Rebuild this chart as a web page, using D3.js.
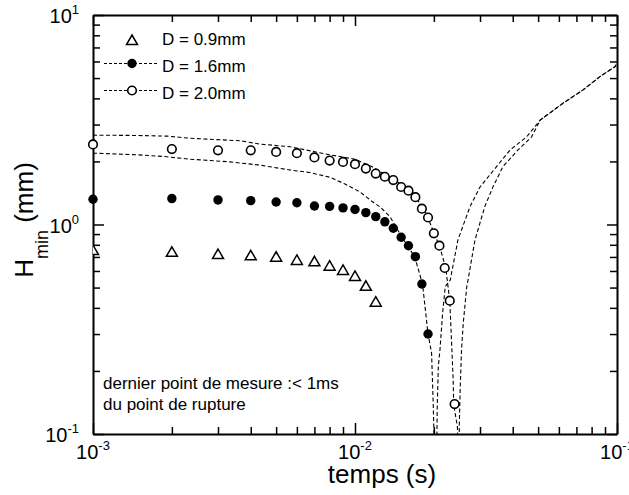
<!DOCTYPE html>
<html>
<head>
<meta charset="utf-8">
<script src="https://cdn.jsdelivr.net/npm/d3@7"></script>
<style>
  body { margin: 0; background: #fff; }
  svg { display: block; font-family: Arial, "Liberation Sans", sans-serif; }
</style>
</head>
<body>
<svg id="chart" width="629" height="495"></svg>
<script>
// Measured minimal thickness H_min (mm) versus time (s), three nozzle diameters
const tTri  = [0.001, 0.002, 0.003, 0.004, 0.005, 0.006, 0.007, 0.008, 0.009, 0.010, 0.011, 0.012];
const hTri  = [0.755, 0.741, 0.723, 0.713, 0.702, 0.677, 0.667, 0.636, 0.607, 0.568, 0.510, 0.428];

const tFill = [0.001, 0.002, 0.003, 0.004, 0.005, 0.006, 0.007, 0.008, 0.009, 0.010,
               0.011, 0.012, 0.013, 0.014, 0.015, 0.016, 0.017, 0.018, 0.019];
const hFill = [1.32, 1.33, 1.31, 1.30, 1.28, 1.27, 1.225, 1.22, 1.20, 1.18,
               1.14, 1.09, 1.03, 0.96, 0.869, 0.792, 0.702, 0.520, 0.300];

const tOpen = [0.001, 0.002, 0.003, 0.004, 0.005, 0.006, 0.007, 0.008, 0.009, 0.010,
               0.011, 0.012, 0.013, 0.014, 0.015, 0.016, 0.017, 0.018, 0.019, 0.020,
               0.021, 0.022, 0.023, 0.024];
const hOpen = [2.41, 2.29, 2.26, 2.26, 2.22, 2.19, 2.09, 2.02, 1.99, 1.94,
               1.85, 1.75, 1.69, 1.63, 1.51, 1.45, 1.35, 1.19, 1.08, 0.908,
               0.792, 0.620, 0.433, 0.139];

// Computed profiles (dashed curves)
const tSim16 = [1.0e-3, 1.49e-3, 1.88e-3, 2.35e-3, 3.33e-3, 4.34e-3, 5.65e-3, 6.73e-3, 8.03e-3, 9.16e-3,
                1.045e-2, 1.17e-2, 1.25e-2, 1.36e-2, 1.51e-2, 1.69e-2, 1.81e-2, 1.90e-2, 1.96e-2, 1.99e-2,
                2.01e-2, 2.05e-2, 2.06e-2, 2.08e-2, 2.11e-2, 2.16e-2, 2.21e-2, 2.31e-2, 2.47e-2, 2.75e-2,
                3.00e-2, 3.47e-2, 3.91e-2, 4.52e-2, 5.09e-2, 6.22e-2, 7.42e-2, 8.61e-2, 9.83e-2, 0.1];
const hSim16 = [2.19, 2.15, 2.11, 2.05, 1.99, 1.92, 1.82, 1.77, 1.68, 1.56,
                1.43, 1.28, 1.21, 1.09, 0.869, 0.702, 0.520, 0.300, 0.244, 0.135,
                0.08, 0.08, 0.135, 0.21, 0.252, 0.378, 0.505, 0.543, 0.843, 1.22,
                1.51, 1.89, 2.27, 2.62, 3.15, 3.79, 4.39, 5.08, 5.67, 5.90];

const tSim20 = [1.0e-3, 1.49e-3, 1.93e-3, 2.35e-3, 3.64e-3, 4.34e-3, 5.65e-3, 8.03e-3, 1.0e-2, 1.19e-2,
                1.29e-2, 1.40e-2, 1.51e-2, 1.61e-2, 1.69e-2, 1.81e-2, 1.90e-2, 2.0e-2, 2.10e-2, 2.22e-2,
                2.30e-2, 2.37e-2, 2.38e-2, 2.46e-2, 2.47e-2, 2.50e-2, 2.50e-2, 2.52e-2, 2.55e-2, 2.59e-2,
                2.67e-2, 2.70e-2, 2.87e-2, 3.13e-2, 3.36e-2, 3.67e-2, 4.19e-2, 4.72e-2, 5.09e-2, 6.22e-2,
                7.42e-2, 8.61e-2, 9.83e-2, 0.1];
const hSim20 = [2.67, 2.66, 2.64, 2.58, 2.51, 2.42, 2.35, 2.15, 2.05, 1.86,
                1.74, 1.65, 1.54, 1.46, 1.37, 1.21, 1.08, 0.908, 0.792, 0.62,
                0.433, 0.181, 0.139, 0.108, 0.08, 0.08, 0.108, 0.162, 0.252, 0.339,
                0.505, 0.543, 0.843, 1.22, 1.51, 1.89, 2.27, 2.62, 3.15, 3.79,
                4.39, 5.08, 5.67, 5.90];

const legendLabels = ["D = 0.9mm", "D = 1.6mm", "D = 2.0mm"];
const xMajor = [1e-3, 1e-2, 1e-1];
const xMajorExp = ["-3", "-2", "-1"];
const yMajor = [0.1, 1, 10];
const yMajorExp = ["-1", "0", "1"];

const svg = d3.select("#chart");
const x = d3.scaleLog().domain([1e-3, 1e-1]).range([93, 617]);
const y = d3.scaleLog().domain([0.1, 10]).range([434, 15]);

function decadeTicks(lo, hi) {
  const out = [];
  for (let e = lo; e < hi; e++) for (let k = 2; k < 10; k++) out.push(k * Math.pow(10, e));
  return out;
}
const xMinor = decadeTicks(-3, -1);
const yMinor = decadeTicks(-1, 1);

svg.append("defs").append("clipPath").attr("id", "plotArea")
  .append("rect").attr("x", 93).attr("y", 15).attr("width", 524).attr("height", 419);

// axes: inward ticks on all four sides
function drawAxis(axisFn, scale, transform, values, size, withDomain) {
  const g = svg.append("g").attr("transform", transform)
    .call(axisFn(scale).tickValues(values).tickSize(-size).tickSizeOuter(0).tickFormat(""));
  g.selectAll(".tick line").attr("stroke", "#000").attr("stroke-width", 1.5);
  if (withDomain) g.select(".domain").attr("stroke", "#000").attr("stroke-width", 2);
  else g.select(".domain").remove();
}
drawAxis(d3.axisBottom, x, "translate(0,434)", xMinor, 7, true);
drawAxis(d3.axisBottom, x, "translate(0,434)", xMajor, 11, false);
drawAxis(d3.axisTop, x, "translate(0,15)", xMinor, 7, true);
drawAxis(d3.axisTop, x, "translate(0,15)", xMajor, 11, false);
drawAxis(d3.axisLeft, y, "translate(93,0)", yMinor, 7, true);
drawAxis(d3.axisLeft, y, "translate(93,0)", yMajor, 11, false);
drawAxis(d3.axisRight, y, "translate(617,0)", yMinor, 7, true);
drawAxis(d3.axisRight, y, "translate(617,0)", yMajor, 10, false);

// tick labels with exponents
function powLabel(px, py, exp, anchor) {
  const t = svg.append("text").attr("x", px).attr("y", py)
    .attr("text-anchor", anchor).attr("font-size", 20).attr("fill", "#000");
  t.append("tspan").text("10");
  t.append("tspan").attr("font-size", 13).attr("dy", -9).text(exp);
}
xMajor.forEach((v, i) => powLabel(x(v), 459, xMajorExp[i], "middle"));
yMajor.forEach((v, i) => powLabel(79, y(v) + 8, yMajorExp[i], "end"));

// axis titles
svg.append("text").attr("x", 382).attr("y", 483).attr("text-anchor", "middle")
  .attr("font-size", 26).attr("fill", "#000").text("temps (s)");
const yt = svg.append("text").attr("transform", "translate(33,220) rotate(-90)")
  .attr("text-anchor", "middle").attr("font-size", 26).attr("fill", "#000");
yt.append("tspan").text("H");
yt.append("tspan").attr("font-size", 18).attr("dy", 15).text("min");
yt.append("tspan").attr("dy", -15).text(" (mm)");

// dashed computed curves
const line = d3.line().x(d => x(d[0])).y(d => y(d[1]));
const plot = svg.append("g").attr("clip-path", "url(#plotArea)");
[[tSim16, hSim16], [tSim20, hSim20]].forEach(([ts, hs]) => {
  plot.append("path").datum(ts.map((t, i) => [t, hs[i]]))
    .attr("d", line).attr("fill", "none").attr("stroke", "#000")
    .attr("stroke-width", 1.1).attr("stroke-dasharray", "4,2.5");
});

// markers
const triPath = "M0,-5L5.5,4.5L-5.5,4.5Z";
plot.selectAll(".tri").data(tTri.map((t, i) => [t, hTri[i]])).join("path")
  .attr("transform", d => `translate(${x(d[0])},${y(d[1])})`)
  .attr("d", triPath).attr("fill", "#fff").attr("stroke", "#000").attr("stroke-width", 1.5);
svg.selectAll(".fill").data(tFill.map((t, i) => [t, hFill[i]])).join("circle")
  .attr("cx", d => x(d[0])).attr("cy", d => y(d[1])).attr("r", 4.7).attr("fill", "#000");
svg.selectAll(".open").data(tOpen.map((t, i) => [t, hOpen[i]])).join("circle")
  .attr("cx", d => x(d[0])).attr("cy", d => y(d[1])).attr("r", 4.3)
  .attr("fill", "#fff").attr("stroke", "#000").attr("stroke-width", 1.6);

// legend
const legRows = [40, 63.5, 90.5];
const legText = [45, 72, 99];
[1, 2].forEach(i => {
  svg.append("line").attr("x1", 104).attr("x2", 159).attr("y1", legRows[i]).attr("y2", legRows[i])
    .attr("stroke", "#000").attr("stroke-width", 1.1).attr("stroke-dasharray", "3,2");
});
svg.append("path").attr("transform", `translate(132,${legRows[0]})`).attr("d", triPath)
  .attr("fill", "#fff").attr("stroke", "#000").attr("stroke-width", 1.5);
svg.append("circle").attr("cx", 132).attr("cy", legRows[1]).attr("r", 4.7).attr("fill", "#000");
svg.append("circle").attr("cx", 132).attr("cy", legRows[2]).attr("r", 4.3)
  .attr("fill", "#fff").attr("stroke", "#000").attr("stroke-width", 1.6);
legendLabels.forEach((lab, i) => {
  svg.append("text").attr("x", 162).attr("y", legText[i]).attr("font-size", 17)
    .attr("fill", "#000").text(lab);
});

// note
svg.append("text").attr("x", 103).attr("y", 389).attr("font-size", 17).attr("fill", "#000")
  .text("dernier point de mesure :< 1ms");
svg.append("text").attr("x", 103).attr("y", 410).attr("font-size", 17).attr("fill", "#000")
  .text("du point de rupture");
</script>
</body>
</html>
